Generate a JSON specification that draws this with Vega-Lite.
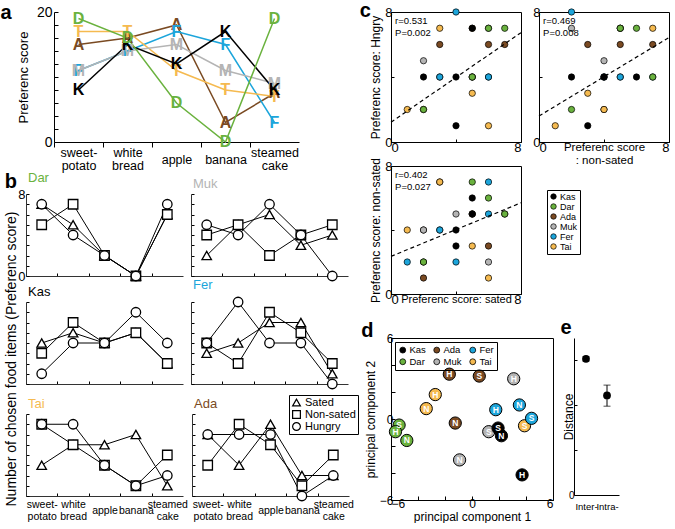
{
"$schema": "https://vega.github.io/schema/vega-lite/v6.json",
"background": "white",
"padding": {"left": 0, "right": 0, "top": 0, "bottom": 0},
"config": {
  "font": "Liberation Sans",
  "view": {"stroke": null},
  "axis": {"grid": false, "domainColor": "#000", "tickColor": "#000", "labelColor": "#000", "titleColor": "#000", "titleFontWeight": "normal", "labelFontSize": 12, "titleFontSize": 13, "labelFont": "Liberation Sans", "titleFont": "Liberation Sans"},
  "title": {"fontWeight": "normal", "color": "#000", "font": "Liberation Sans"},
  "legend": {"labelFont": "Liberation Sans", "labelColor": "#000"}
},
"datasets": {
  "scores": [
    {"monkey": "Ada", "food": "sweet-potato", "Sated": 6, "Non-sated": 3, "Hungry": 6},
    {"monkey": "Ada", "food": "white bread", "Sated": 3, "Non-sated": 7, "Hungry": 6},
    {"monkey": "Ada", "food": "apple", "Sated": 7, "Non-sated": 5, "Hungry": 6},
    {"monkey": "Ada", "food": "banana", "Sated": 2, "Non-sated": 1, "Hungry": 0},
    {"monkey": "Ada", "food": "steamed cake", "Sated": 2, "Non-sated": 4, "Hungry": 2},
    {"monkey": "Muk", "food": "sweet-potato", "Sated": 2, "Non-sated": 4, "Hungry": 5},
    {"monkey": "Muk", "food": "white bread", "Sated": 5, "Non-sated": 5, "Hungry": 4},
    {"monkey": "Muk", "food": "apple", "Sated": 6, "Non-sated": 2, "Hungry": 7},
    {"monkey": "Muk", "food": "banana", "Sated": 3, "Non-sated": 4, "Hungry": 4},
    {"monkey": "Muk", "food": "steamed cake", "Sated": 4, "Non-sated": 5, "Hungry": 0},
    {"monkey": "Fer", "food": "sweet-potato", "Sated": 3, "Non-sated": 4, "Hungry": 4},
    {"monkey": "Fer", "food": "white bread", "Sated": 4, "Non-sated": 2, "Hungry": 8},
    {"monkey": "Fer", "food": "apple", "Sated": 6, "Non-sated": 7, "Hungry": 4},
    {"monkey": "Fer", "food": "banana", "Sated": 6, "Non-sated": 5, "Hungry": 4},
    {"monkey": "Fer", "food": "steamed cake", "Sated": 1, "Non-sated": 2, "Hungry": 0},
    {"monkey": "Tai", "food": "sweet-potato", "Sated": 3, "Non-sated": 7, "Hungry": 7},
    {"monkey": "Tai", "food": "white bread", "Sated": 5, "Non-sated": 5, "Hungry": 7},
    {"monkey": "Tai", "food": "apple", "Sated": 5, "Non-sated": 3, "Hungry": 3},
    {"monkey": "Tai", "food": "banana", "Sated": 6, "Non-sated": 1, "Hungry": 1},
    {"monkey": "Tai", "food": "steamed cake", "Sated": 1, "Non-sated": 4, "Hungry": 2},
    {"monkey": "Kas", "food": "sweet-potato", "Sated": 4, "Non-sated": 3, "Hungry": 1},
    {"monkey": "Kas", "food": "white bread", "Sated": 5, "Non-sated": 6, "Hungry": 4},
    {"monkey": "Kas", "food": "apple", "Sated": 4, "Non-sated": 4, "Hungry": 4},
    {"monkey": "Kas", "food": "banana", "Sated": 5, "Non-sated": 5, "Hungry": 7},
    {"monkey": "Kas", "food": "steamed cake", "Sated": 2, "Non-sated": 2, "Hungry": 4},
    {"monkey": "Dar", "food": "sweet-potato", "Sated": 7, "Non-sated": 5, "Hungry": 7},
    {"monkey": "Dar", "food": "white bread", "Sated": 5, "Non-sated": 7, "Hungry": 4},
    {"monkey": "Dar", "food": "apple", "Sated": 2, "Non-sated": 2, "Hungry": 2},
    {"monkey": "Dar", "food": "banana", "Sated": 0, "Non-sated": 0, "Hungry": 0},
    {"monkey": "Dar", "food": "steamed cake", "Sated": 6, "Non-sated": 6, "Hungry": 7}
  ],
  "totals": [
    {"monkey": "Ada", "letter": "A", "food": "sweet-potato", "total": 15},
    {"monkey": "Ada", "letter": "A", "food": "white bread", "total": 16},
    {"monkey": "Ada", "letter": "A", "food": "apple", "total": 18},
    {"monkey": "Ada", "letter": "A", "food": "banana", "total": 3},
    {"monkey": "Ada", "letter": "A", "food": "steamed cake", "total": 7.5},
    {"monkey": "Fer", "letter": "F", "food": "sweet-potato", "total": 11},
    {"monkey": "Fer", "letter": "F", "food": "white bread", "total": 14},
    {"monkey": "Fer", "letter": "F", "food": "apple", "total": 17},
    {"monkey": "Fer", "letter": "F", "food": "banana", "total": 15},
    {"monkey": "Fer", "letter": "F", "food": "steamed cake", "total": 3},
    {"monkey": "Tai", "letter": "T", "food": "sweet-potato", "total": 17},
    {"monkey": "Tai", "letter": "T", "food": "white bread", "total": 17},
    {"monkey": "Tai", "letter": "T", "food": "apple", "total": 11},
    {"monkey": "Tai", "letter": "T", "food": "banana", "total": 8},
    {"monkey": "Tai", "letter": "T", "food": "steamed cake", "total": 7},
    {"monkey": "Muk", "letter": "M", "food": "sweet-potato", "total": 11},
    {"monkey": "Muk", "letter": "M", "food": "white bread", "total": 14},
    {"monkey": "Muk", "letter": "M", "food": "apple", "total": 15},
    {"monkey": "Muk", "letter": "M", "food": "banana", "total": 11},
    {"monkey": "Muk", "letter": "M", "food": "steamed cake", "total": 9},
    {"monkey": "Kas", "letter": "K", "food": "sweet-potato", "total": 8},
    {"monkey": "Kas", "letter": "K", "food": "white bread", "total": 15},
    {"monkey": "Kas", "letter": "K", "food": "apple", "total": 12},
    {"monkey": "Kas", "letter": "K", "food": "banana", "total": 17},
    {"monkey": "Kas", "letter": "K", "food": "steamed cake", "total": 8},
    {"monkey": "Dar", "letter": "D", "food": "sweet-potato", "total": 19},
    {"monkey": "Dar", "letter": "D", "food": "white bread", "total": 16},
    {"monkey": "Dar", "letter": "D", "food": "apple", "total": 6},
    {"monkey": "Dar", "letter": "D", "food": "banana", "total": 0},
    {"monkey": "Dar", "letter": "D", "food": "steamed cake", "total": 19}
  ],
  "fits": [
    {"panel": "c1", "x": 0, "y": 1.22}, {"panel": "c1", "x": 8, "y": 6.73},
    {"panel": "c2", "x": 0, "y": 1.6}, {"panel": "c2", "x": 8, "y": 6.43},
    {"panel": "c3", "x": 0, "y": 2.35}, {"panel": "c3", "x": 8, "y": 5.7}
  ],
  "pca": [
    {"monkey": "Ada", "cond": "H", "pc1": -1.68, "pc2": 3.32},
    {"monkey": "Ada", "cond": "S", "pc1": 0.54, "pc2": 3.18},
    {"monkey": "Ada", "cond": "N", "pc1": -1.24, "pc2": -0.3},
    {"monkey": "Muk", "cond": "H", "pc1": 3.09, "pc2": 2.98},
    {"monkey": "Muk", "cond": "S", "pc1": 1.24, "pc2": -0.94},
    {"monkey": "Muk", "cond": "N", "pc1": -0.92, "pc2": -3.03},
    {"monkey": "Tai", "cond": "H", "pc1": -2.72, "pc2": 1.81},
    {"monkey": "Tai", "cond": "N", "pc1": -3.39, "pc2": 0.77},
    {"monkey": "Tai", "cond": "S", "pc1": 3.89, "pc2": -0.5},
    {"monkey": "Fer", "cond": "H", "pc1": 1.76, "pc2": 0.69},
    {"monkey": "Fer", "cond": "N", "pc1": 3.51, "pc2": 1.04},
    {"monkey": "Fer", "cond": "S", "pc1": 4.41, "pc2": 0.05},
    {"monkey": "Dar", "cond": "S", "pc1": -5.4, "pc2": -0.45},
    {"monkey": "Dar", "cond": "H", "pc1": -5.67, "pc2": -0.94},
    {"monkey": "Dar", "cond": "N", "pc1": -4.83, "pc2": -1.59},
    {"monkey": "Kas", "cond": "S", "pc1": 1.93, "pc2": -0.67},
    {"monkey": "Kas", "cond": "N", "pc1": 2.18, "pc2": -1.24},
    {"monkey": "Kas", "cond": "H", "pc1": 3.71, "pc2": -4.14}
  ],
  "dist": [
    {"group": "Inter-", "mean": 6.07, "lo": 5.97, "hi": 6.17},
    {"group": "Intra-", "mean": 4.44, "lo": 3.96, "hi": 4.9}
  ]
},
"spacing": 0,
"resolve": {"scale": {"color": "independent", "fill": "independent", "shape": "independent"}, "legend": {"color": "independent", "fill": "independent", "shape": "independent"}},
"hconcat": [
  {
    "spacing": 0,
    "resolve": {"scale": {"shape": "independent"}, "legend": {"shape": "independent"}},
    "vconcat": [
      {
        "width": 273, "height": 130,
        "title": {"text": "a", "anchor": "start", "frame": "bounds", "fontSize": 20, "fontWeight": "bold", "dx": -17, "dy": 22},
        "data": {"name": "totals"},
        "encoding": {
          "x": {"field": "food", "type": "nominal", "sort": ["sweet-potato", "white bread", "apple", "banana", "steamed cake"],
                "scale": {"type": "band", "domain": ["sweet-potato", "white bread", "apple", "banana", "steamed cake"], "range": [28, 273], "paddingInner": 0, "paddingOuter": 0},
                "axis": {"title": null, "labelAngle": 0, "tickSize": 5, "tickOffset": -24.5, "labelOffset": 24.5, "labelPadding": {"condition": {"test": "datum.label == 'apple' || datum.label == 'banana'", "value": 12}, "value": 5}, "labelBaseline": "middle", "labelFontSize": 12.5, "labelLineHeight": 13, "labelExpr": "datum.label == 'sweet-potato' ? ['sweet-', 'potato'] : datum.label == 'white bread' ? ['white', 'bread'] : datum.label == 'steamed cake' ? ['steamed', 'cake'] : datum.label"}},
          "y": {"field": "total", "type": "quantitative", "scale": {"domain": [0, 20], "nice": false},
                "axis": {"title": "Preferenc score", "offset": -28, "values": [0, 2, 4, 6, 8, 10, 12, 14, 16, 18, 20], "tickSize": -4, "labelPadding": 6, "labelFontSize": 14, "labelExpr": "datum.value == 0 || datum.value == 20 ? datum.label : ''", "titlePadding": 6}},
          "color": {"field": "monkey", "type": "nominal", "scale": {"domain": ["Kas", "Dar", "Ada", "Muk", "Fer", "Tai"], "range": ["#000000", "#6ab23e", "#7a4a22", "#b4b4b4", "#1ca5db", "#f5ba50"]}, "legend": null}
        },
        "layer": [
          {"mark": {"type": "line", "strokeWidth": 1.5}, "encoding": {"order": {"value": null}}},
          {"mark": {"type": "text", "fontSize": 16, "fontWeight": "bold"}, "encoding": {"text": {"field": "letter"}}}
        ]
      },
      {
        "title": {"text": "Number of chosen food items (Preferenc score)", "orient": "left", "offset": -14, "fontSize": 14, "fontWeight": "normal", "dx": 15},
        "spacing": -6,
        "resolve": {"scale": {"shape": "independent"}, "legend": {"shape": "independent"}},
        "vconcat": [
          {"title": {"text": "b", "anchor": "start", "frame": "bounds", "fontSize": 20, "fontWeight": "bold", "dx": -13, "dy": 24},
           "resolve": {"scale": {"shape": "independent"}, "legend": {"shape": "independent"}},
           "hconcat": [
            {"width": 157, "height": 82,
             "title": {"text": "Dar", "color": "#6ab23e", "anchor": "start", "frame": "group", "dx": 2, "fontSize": 13, "offset": 3},
             "data": {"name": "scores"},
             "transform": [{"filter": "datum.monkey == 'Dar'"}, {"fold": ["Sated", "Non-sated", "Hungry"], "as": ["cond", "score"]}],
             "encoding": {
               "x": {"field": "food", "type": "nominal", "sort": ["sweet-potato", "white bread", "apple", "banana", "steamed cake"], "scale": {"type": "band", "domain": ["sweet-potato", "white bread", "apple", "banana", "steamed cake"], "paddingInner": 0, "paddingOuter": 0}, "axis": {"title": null, "labels": false, "tickSize": -3, "tickOffset": -15.7, "domainColor": "#333"}},
               "y": {"field": "score", "type": "quantitative", "scale": {"domain": [0, 8], "nice": false}, "axis": {"title": null, "values": [0, 1, 2, 3, 4, 5, 6, 7, 8], "tickSize": -3, "labelPadding": 4, "labelFontSize": 13, "labelExpr": "datum.value == 0 || datum.value == 8 ? datum.label : ''", "domainColor": "#333"}}
             },
             "layer": [
               {"mark": {"type": "line", "color": "black", "strokeWidth": 1}, "encoding": {"detail": {"field": "cond"}, "order": {"value": null}}},
               {"mark": {"type": "point", "filled": false, "fill": "white", "color": "black", "strokeWidth": 1.3, "size": 90, "opacity": 1}, "encoding": {"shape": {"field": "cond", "type": "nominal", "scale": {"domain": ["Sated", "Non-sated", "Hungry"], "range": ["triangle-up", "square", "circle"]}, "legend": null}}}
             ]},
            {"width": 157, "height": 82,
             "title": {"text": "Muk", "color": "#b4b4b4", "anchor": "start", "frame": "group", "dx": 2, "fontSize": 13, "offset": 3},
             "data": {"name": "scores"},
             "transform": [{"filter": "datum.monkey == 'Muk'"}, {"fold": ["Sated", "Non-sated", "Hungry"], "as": ["cond", "score"]}],
             "encoding": {
               "x": {"field": "food", "type": "nominal", "sort": ["sweet-potato", "white bread", "apple", "banana", "steamed cake"], "scale": {"type": "band", "domain": ["sweet-potato", "white bread", "apple", "banana", "steamed cake"], "paddingInner": 0, "paddingOuter": 0}, "axis": {"title": null, "labels": false, "tickSize": -3, "tickOffset": -15.7, "domainColor": "#333"}},
               "y": {"field": "score", "type": "quantitative", "scale": {"domain": [0, 8], "nice": false}, "axis": {"title": null, "values": [0, 1, 2, 3, 4, 5, 6, 7, 8], "tickSize": -3, "labels": false, "domainColor": "#333"}}
             },
             "layer": [
               {"mark": {"type": "line", "color": "black", "strokeWidth": 1}, "encoding": {"detail": {"field": "cond"}, "order": {"value": null}}},
               {"mark": {"type": "point", "filled": false, "fill": "white", "color": "black", "strokeWidth": 1.3, "size": 90, "opacity": 1}, "encoding": {"shape": {"field": "cond", "type": "nominal", "scale": {"domain": ["Sated", "Non-sated", "Hungry"], "range": ["triangle-up", "square", "circle"]}, "legend": null}}}
             ]}
          ], "spacing": 7},
          {"spacing": 2,
           "resolve": {"scale": {"shape": "independent"}, "legend": {"shape": "independent"}},
           "vconcat": [
            {"resolve": {"scale": {"shape": "independent"}, "legend": {"shape": "independent"}},
             "hconcat": [
              {"width": 157, "height": 82,
               "title": {"text": "Kas", "color": "#000000", "anchor": "start", "frame": "group", "dx": 2, "fontSize": 13, "offset": 3},
               "data": {"name": "scores"},
               "transform": [{"filter": "datum.monkey == 'Kas'"}, {"fold": ["Sated", "Non-sated", "Hungry"], "as": ["cond", "score"]}],
               "encoding": {
                 "x": {"field": "food", "type": "nominal", "sort": ["sweet-potato", "white bread", "apple", "banana", "steamed cake"], "scale": {"type": "band", "domain": ["sweet-potato", "white bread", "apple", "banana", "steamed cake"], "paddingInner": 0, "paddingOuter": 0}, "axis": {"title": null, "labels": false, "tickSize": -3, "tickOffset": -15.7, "domainColor": "#333"}},
                 "y": {"field": "score", "type": "quantitative", "scale": {"domain": [0, 8], "nice": false}, "axis": {"title": null, "values": [0, 1, 2, 3, 4, 5, 6, 7, 8], "tickSize": -3, "labels": false, "domainColor": "#333"}}
               },
               "layer": [
                 {"mark": {"type": "line", "color": "black", "strokeWidth": 1}, "encoding": {"detail": {"field": "cond"}, "order": {"value": null}}},
                 {"mark": {"type": "point", "filled": false, "fill": "white", "color": "black", "strokeWidth": 1.3, "size": 90, "opacity": 1}, "encoding": {"shape": {"field": "cond", "type": "nominal", "scale": {"domain": ["Sated", "Non-sated", "Hungry"], "range": ["triangle-up", "square", "circle"]}, "legend": null}}}
               ]},
              {"width": 157, "height": 82,
               "title": {"text": "Fer", "color": "#1ca5db", "anchor": "start", "frame": "group", "dx": 2, "fontSize": 13, "offset": 3},
               "data": {"name": "scores"},
               "transform": [{"filter": "datum.monkey == 'Fer'"}, {"fold": ["Sated", "Non-sated", "Hungry"], "as": ["cond", "score"]}],
               "encoding": {
                 "x": {"field": "food", "type": "nominal", "sort": ["sweet-potato", "white bread", "apple", "banana", "steamed cake"], "scale": {"type": "band", "domain": ["sweet-potato", "white bread", "apple", "banana", "steamed cake"], "paddingInner": 0, "paddingOuter": 0}, "axis": {"title": null, "labels": false, "tickSize": -3, "tickOffset": -15.7, "domainColor": "#333"}},
                 "y": {"field": "score", "type": "quantitative", "scale": {"domain": [0, 8], "nice": false}, "axis": {"title": null, "values": [0, 1, 2, 3, 4, 5, 6, 7, 8], "tickSize": -3, "labels": false, "domainColor": "#333"}}
               },
               "layer": [
                 {"mark": {"type": "line", "color": "black", "strokeWidth": 1}, "encoding": {"detail": {"field": "cond"}, "order": {"value": null}}},
                 {"mark": {"type": "point", "filled": false, "fill": "white", "color": "black", "strokeWidth": 1.3, "size": 90, "opacity": 1}, "encoding": {"shape": {"field": "cond", "type": "nominal", "scale": {"domain": ["Sated", "Non-sated", "Hungry"], "range": ["triangle-up", "square", "circle"]}, "legend": null}}}
               ]}
            ], "spacing": 7},
            {"resolve": {"scale": {"shape": "independent"}, "legend": {"shape": "independent"}},
             "hconcat": [
              {"width": 157, "height": 82,
               "title": {"text": "Tai", "color": "#f5ba50", "anchor": "start", "frame": "group", "dx": 2, "fontSize": 13, "offset": 3},
               "data": {"name": "scores"},
               "transform": [{"filter": "datum.monkey == 'Tai'"}, {"fold": ["Sated", "Non-sated", "Hungry"], "as": ["cond", "score"]}],
               "encoding": {
                 "x": {"field": "food", "type": "nominal", "sort": ["sweet-potato", "white bread", "apple", "banana", "steamed cake"], "scale": {"type": "band", "domain": ["sweet-potato", "white bread", "apple", "banana", "steamed cake"], "paddingInner": 0, "paddingOuter": 0}, "axis": {"title": null, "labelAngle": 0, "tickSize": -3, "tickOffset": -15.7, "labelOffset": 15.7, "labelPadding": {"condition": {"test": "datum.label == 'apple' || datum.label == 'banana'", "value": 17}, "value": 11}, "labelBaseline": "middle", "labelFontSize": 10.5, "labelLineHeight": 12, "labelExpr": "datum.label == 'sweet-potato' ? ['sweet-', 'potato'] : datum.label == 'white bread' ? ['white', 'bread'] : datum.label == 'steamed cake' ? ['steamed', 'cake'] : datum.label", "domainColor": "#333"}},
                 "y": {"field": "score", "type": "quantitative", "scale": {"domain": [0, 8], "nice": false}, "axis": {"title": null, "values": [0, 1, 2, 3, 4, 5, 6, 7, 8], "tickSize": -3, "labels": false, "domainColor": "#333"}}
               },
               "layer": [
                 {"mark": {"type": "line", "color": "black", "strokeWidth": 1}, "encoding": {"detail": {"field": "cond"}, "order": {"value": null}}},
                 {"mark": {"type": "point", "filled": false, "fill": "white", "color": "black", "strokeWidth": 1.3, "size": 90, "opacity": 1}, "encoding": {"shape": {"field": "cond", "type": "nominal", "scale": {"domain": ["Sated", "Non-sated", "Hungry"], "range": ["triangle-up", "square", "circle"]}, "legend": null}}}
               ]},
              {"width": 157, "height": 82,
               "title": {"text": "Ada", "color": "#7a4a22", "anchor": "start", "frame": "group", "dx": 2, "dy": 19, "fontSize": 13, "offset": 3},
               "data": {"name": "scores"},
               "transform": [{"filter": "datum.monkey == 'Ada'"}, {"fold": ["Sated", "Non-sated", "Hungry"], "as": ["cond", "score"]}],
               "encoding": {
                 "x": {"field": "food", "type": "nominal", "sort": ["sweet-potato", "white bread", "apple", "banana", "steamed cake"], "scale": {"type": "band", "domain": ["sweet-potato", "white bread", "apple", "banana", "steamed cake"], "paddingInner": 0, "paddingOuter": 0}, "axis": {"title": null, "labelAngle": 0, "tickSize": -3, "tickOffset": -15.7, "labelOffset": 15.7, "labelPadding": {"condition": {"test": "datum.label == 'apple' || datum.label == 'banana'", "value": 17}, "value": 11}, "labelBaseline": "middle", "labelFontSize": 10.5, "labelLineHeight": 12, "labelExpr": "datum.label == 'sweet-potato' ? ['sweet-', 'potato'] : datum.label == 'white bread' ? ['white', 'bread'] : datum.label == 'steamed cake' ? ['steamed', 'cake'] : datum.label", "domainColor": "#333"}},
                 "y": {"field": "score", "type": "quantitative", "scale": {"domain": [0, 8], "nice": false}, "axis": {"title": null, "values": [0, 1, 2, 3, 4, 5, 6, 7, 8], "tickSize": -3, "labels": false, "domainColor": "#333"}}
               },
               "layer": [
                 {"mark": {"type": "line", "color": "black", "strokeWidth": 1}, "encoding": {"detail": {"field": "cond"}, "order": {"value": null}}},
                 {"mark": {"type": "point", "filled": false, "fill": "white", "color": "black", "strokeWidth": 1.3, "size": 90, "opacity": 1}, "encoding": {"shape": {"field": "cond", "type": "nominal", "scale": {"domain": ["Sated", "Non-sated", "Hungry"], "range": ["triangle-up", "square", "circle"]}, "legend": {"orient": "none", "legendX": 97, "legendY": -19, "title": null, "strokeColor": "black", "padding": 2, "labelFontSize": 11, "symbolSize": 60, "symbolStrokeWidth": 1.2, "rowPadding": 0, "clipHeight": 11, "labelOffset": 3}}}}
               ]}
            ], "spacing": 3}
          ]}
        ]
      }
    ]
  },
  {
    "spacing": 11,
    "resolve": {"scale": {"fill": "independent"}, "legend": {"fill": "independent"}},
    "vconcat": [
      {"spacing": -17,
       "resolve": {"scale": {"fill": "independent"}, "legend": {"fill": "independent"}},
       "vconcat": [
        {"hconcat": [
          {"width": 130, "height": 130,
           "view": {"stroke": "black", "strokeWidth": 1},
           "title": {"text": "c", "anchor": "start", "frame": "bounds", "fontSize": 20, "fontWeight": "bold", "dx": -10, "dy": 19},
           "layer": [
             {"data": {"name": "scores"}, "transform": [{"filter": "datum.Sated > 0 && datum.Hungry > 0"}],
              "mark": {"type": "circle", "size": 40, "stroke": "black", "strokeWidth": 0.7, "opacity": 1},
              "encoding": {
                "x": {"field": "Sated", "type": "quantitative", "scale": {"domain": [0, 8], "nice": false}, "axis": {"title": null, "values": [0, 1, 2, 3, 4, 5, 6, 7, 8], "tickSize": -3, "labelPadding": 2, "labelFontSize": 13, "labelExpr": "datum.value == 0 || datum.value == 8 ? datum.label : ''"}},
                "y": {"field": "Hungry", "type": "quantitative", "scale": {"domain": [0, 8], "nice": false}, "axis": {"title": "Preferenc score: Hngry", "titleFontSize": 12, "titlePadding": 2, "values": [0, 1, 2, 3, 4, 5, 6, 7, 8], "tickSize": -3, "labelPadding": 2, "labelFontSize": 13, "labelExpr": "datum.value == 0 || datum.value == 8 ? datum.label : ''"}},
                "fill": {"field": "monkey", "type": "nominal", "scale": {"domain": ["Kas", "Dar", "Ada", "Muk", "Fer", "Tai"], "range": ["#000000", "#6ab23e", "#7a4a22", "#b4b4b4", "#1ca5db", "#f5ba50"]}, "legend": null}
              }},
             {"data": {"name": "fits"}, "transform": [{"filter": "datum.panel == 'c1'"}],
              "mark": {"type": "line", "color": "black", "strokeWidth": 1.2, "strokeDash": [4, 3]},
              "encoding": {"x": {"field": "x", "type": "quantitative"}, "y": {"field": "y", "type": "quantitative"}}},
             {"data": {"values": [{}]},
              "mark": {"type": "text", "text": ["r=0.531", "P=0.002"], "align": "left", "baseline": "top", "fontSize": 9.5, "lineHeight": 12},
              "encoding": {"x": {"datum": 0.25}, "y": {"datum": 7.75}}}
           ]},
          {"width": 130, "height": 130,
           "view": {"stroke": "black", "strokeWidth": 1},
           "layer": [
             {"data": {"name": "scores"}, "transform": [{"filter": "datum['Non-sated'] > 0 && datum.Hungry > 0"}],
              "mark": {"type": "circle", "size": 40, "stroke": "black", "strokeWidth": 0.7, "opacity": 1},
              "encoding": {
                "x": {"field": "Non-sated", "type": "quantitative", "scale": {"domain": [0, 8], "nice": false}, "axis": {"title": ["Preferenc score", ": non-sated"], "titleFontSize": 11.5, "titlePadding": -13, "titleLineHeight": 13, "values": [0, 1, 2, 3, 4, 5, 6, 7, 8], "tickSize": -3, "labelPadding": 2, "labelFontSize": 13, "labelExpr": "datum.value == 0 || datum.value == 8 ? datum.label : ''"}},
                "y": {"field": "Hungry", "type": "quantitative", "scale": {"domain": [0, 8], "nice": false}, "axis": {"title": null, "values": [0, 1, 2, 3, 4, 5, 6, 7, 8], "tickSize": -3, "labelPadding": 2, "labelFontSize": 13, "labelExpr": "datum.value == 0 || datum.value == 8 ? datum.label : ''"}},
                "fill": {"field": "monkey", "type": "nominal", "scale": {"domain": ["Kas", "Dar", "Ada", "Muk", "Fer", "Tai"], "range": ["#000000", "#6ab23e", "#7a4a22", "#b4b4b4", "#1ca5db", "#f5ba50"]}, "legend": null}
              }},
             {"data": {"name": "fits"}, "transform": [{"filter": "datum.panel == 'c2'"}],
              "mark": {"type": "line", "color": "black", "strokeWidth": 1.2, "strokeDash": [4, 3]},
              "encoding": {"x": {"field": "x", "type": "quantitative"}, "y": {"field": "y", "type": "quantitative"}}},
             {"data": {"values": [{}]},
              "mark": {"type": "text", "text": ["r=0.469", "P=0.008"], "align": "left", "baseline": "top", "fontSize": 9.5, "lineHeight": 12},
              "encoding": {"x": {"datum": 0.25}, "y": {"datum": 7.75}}}
           ]}
        ], "spacing": 8},
        {"hconcat": [
          {"width": 130, "height": 128,
           "view": {"stroke": "black", "strokeWidth": 1},
           "layer": [
             {"data": {"name": "scores"}, "transform": [{"filter": "datum.Sated > 0 && datum['Non-sated'] > 0"}],
              "mark": {"type": "circle", "size": 40, "stroke": "black", "strokeWidth": 0.7, "opacity": 1},
              "encoding": {
                "x": {"field": "Sated", "type": "quantitative", "scale": {"domain": [0, 8], "nice": false}, "axis": {"title": "Preferenc score: sated", "titleFontSize": 11, "titlePadding": -13, "values": [0, 1, 2, 3, 4, 5, 6, 7, 8], "tickSize": -3, "labelPadding": 2, "labelFontSize": 13, "labelExpr": "datum.value == 0 || datum.value == 8 ? datum.label : ''"}},
                "y": {"field": "Non-sated", "type": "quantitative", "scale": {"domain": [0, 8], "nice": false}, "axis": {"title": "Preferenc score: non-sated", "titleFontSize": 12, "titlePadding": 2, "values": [0, 1, 2, 3, 4, 5, 6, 7, 8], "tickSize": -3, "labelPadding": 2, "labelFontSize": 13, "labelExpr": "datum.value == 0 || datum.value == 8 ? datum.label : ''"}},
                "fill": {"field": "monkey", "type": "nominal", "scale": {"domain": ["Kas", "Dar", "Ada", "Muk", "Fer", "Tai"], "range": ["#000000", "#6ab23e", "#7a4a22", "#b4b4b4", "#1ca5db", "#f5ba50"]},
                         "legend": {"orient": "none", "legendX": 156, "legendY": 24, "title": null, "strokeColor": "black", "padding": 2, "labelFontSize": 9, "symbolSize": 30, "symbolType": "circle", "symbolStrokeColor": "black", "symbolStrokeWidth": 0.7, "rowPadding": 0, "clipHeight": 9, "labelOffset": 2}}
              }},
             {"data": {"name": "fits"}, "transform": [{"filter": "datum.panel == 'c3'"}],
              "mark": {"type": "line", "color": "black", "strokeWidth": 1.2, "strokeDash": [4, 3]},
              "encoding": {"x": {"field": "x", "type": "quantitative"}, "y": {"field": "y", "type": "quantitative"}}},
             {"data": {"values": [{}]},
              "mark": {"type": "text", "text": ["r=0.402", "P=0.027"], "align": "left", "baseline": "top", "fontSize": 9.5, "lineHeight": 12},
              "encoding": {"x": {"datum": 0.25}, "y": {"datum": 7.75}}}
           ]}
        ]}
      ]},
      {"hconcat": [
        {"width": 162, "height": 162,
         "view": {"stroke": "black", "strokeWidth": 1},
         "title": {"text": "d", "anchor": "start", "frame": "bounds", "fontSize": 20, "fontWeight": "bold", "dx": -3, "dy": 13},
         "data": {"name": "pca"},
         "encoding": {
           "x": {"field": "pc1", "type": "quantitative", "scale": {"domain": [-6, 6], "nice": false}, "axis": {"title": "principal component 1", "titleFontSize": 12, "titlePadding": 2, "values": [-6, -4, -2, 0, 2, 4, 6], "tickSize": -4, "labelPadding": 2, "labelFontSize": 12, "labelExpr": "datum.value == 0 || datum.value == 6 || datum.value == -6 ? datum.label : ''"}},
           "y": {"field": "pc2", "type": "quantitative", "scale": {"domain": [-6, 6], "nice": false}, "axis": {"title": "principal component 2", "titleFontSize": 12, "titlePadding": 2, "values": [-6, -4, -2, 0, 2, 4, 6], "tickSize": -4, "labelPadding": 2, "labelFontSize": 12, "labelExpr": "datum.value == 0 || datum.value == 6 || datum.value == -6 ? datum.label : ''"}}
         },
         "layer": [
           {"mark": {"type": "circle", "size": 150, "stroke": "black", "strokeWidth": 1, "opacity": 1},
            "encoding": {"fill": {"field": "monkey", "type": "nominal", "scale": {"domain": ["Kas", "Dar", "Ada", "Muk", "Fer", "Tai"], "range": ["#000000", "#6ab23e", "#7a4a22", "#b4b4b4", "#1ca5db", "#f5ba50"]},
                         "legend": {"orient": "top-left", "offset": 4, "columns": 3, "title": null, "strokeColor": "black", "padding": 3, "labelFontSize": 9.5, "symbolSize": 35, "symbolType": "circle", "symbolStrokeColor": "black", "symbolStrokeWidth": 0.8, "rowPadding": 1, "columnPadding": 6, "labelOffset": 2}}}},
           {"mark": {"type": "text", "fontSize": 8.5, "fontWeight": "bold", "color": "white"}, "encoding": {"text": {"field": "cond"}}}
         ]},
        {"width": 45, "height": 157,
         "title": {"text": "e", "anchor": "start", "frame": "bounds", "fontSize": 20, "fontWeight": "bold", "dx": -2, "dy": 4},
         "data": {"name": "dist"},
         "encoding": {"x": {"field": "group", "type": "nominal", "sort": ["Inter-", "Intra-"], "scale": {"type": "point", "padding": 0.57}, "axis": {"title": null, "labelAngle": 0, "ticks": false, "labelFontSize": 9.5, "labelPadding": 6, "labelOverlap": false}}},
         "layer": [
           {"mark": {"type": "errorbar", "ticks": {"size": 7, "color": "black"}, "rule": {"color": "black"}},
            "encoding": {"y": {"field": "lo", "type": "quantitative", "scale": {"domain": [0, 7], "nice": false}, "axis": {"title": "Distance", "titleFontSize": 12, "titlePadding": -7, "values": [0, 1, 2, 3, 4, 5, 6, 7], "tickSize": -3, "labelPadding": 3, "labelFontSize": 10, "labelExpr": "datum.value == 0 || datum.value == 7 ? datum.label : ''"}}, "y2": {"field": "hi"}}},
           {"mark": {"type": "circle", "size": 60, "color": "black", "opacity": 1},
            "encoding": {"y": {"field": "mean", "type": "quantitative", "axis": {"title": "Distance"}}}}
         ]}
      ], "spacing": 6}
    ]
  }
]
}
